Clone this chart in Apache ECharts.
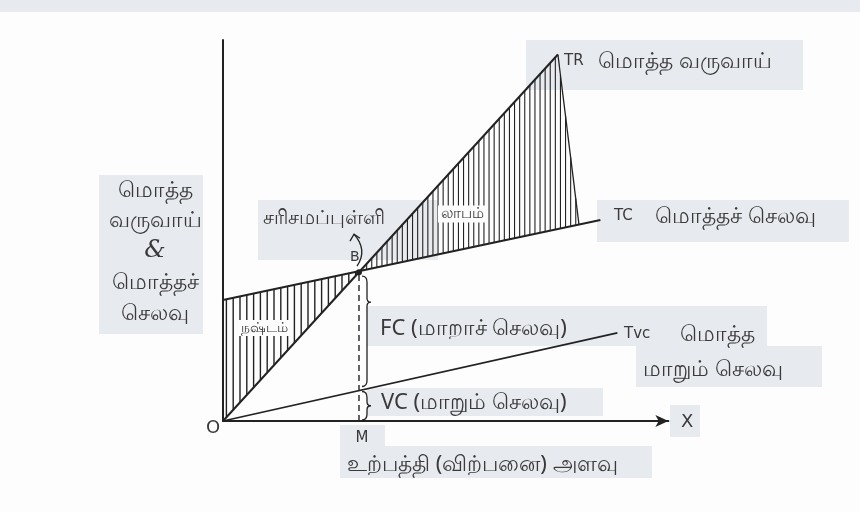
<!DOCTYPE html>
<html>
<head>
<meta charset="utf-8">
<script src="https://cdn.jsdelivr.net/npm/echarts@6/dist/echarts.min.js"></script>
<style>html,body{margin:0;background:#fff}#main{width:860px;height:512px}</style>
</head>
<body>
<div id="main"></div>
<script>
// total revenue, total cost, total variable cost (line end points)
var revenueX = [0, 98.5];
var revenueY = [0, 98.5];
var costX = [0, 111];
var costY = [32.5, 54];
var varCostX = [0, 116];
var varCostY = [0, 23.7];
var breakEven = [40, 40];      // B, above quantity M
var varCostAtM = 8.2;
var profitEdgeX = [98.5, 104.7]; // right edge of the profit hatching (top, bottom)

function lineAt(xs, ys, x) {
    return ys[0] + (ys[1] - ys[0]) * (x - xs[0]) / (xs[1] - xs[0]);
}
function pairs(xs, ys) {
    return xs.map(function (x, i) { return [x, ys[i]]; });
}

var ink = '#222';
var txt = '#3a3a3a';
var patch = '#e7eaee';
var font = '22px "Noto Sans", sans-serif';

function renderMarks(params, api) {
    var kids = [];
    var hatchStyle = { stroke: ink, lineWidth: 1.2 };
    var edgeTopY = lineAt(revenueX, revenueY, profitEdgeX[0]);
    var edgeBotY = lineAt(costX, costY, profitEdgeX[1]);
    function topAt(x) {
        if (x <= breakEven[0]) return lineAt(costX, costY, x);
        if (x <= profitEdgeX[0]) return lineAt(revenueX, revenueY, x);
        return lineAt(profitEdgeX, [edgeTopY, edgeBotY], x);
    }
    function botAt(x) {
        if (x <= breakEven[0]) return lineAt(revenueX, revenueY, x);
        return lineAt(costX, costY, x);
    }
    function hatch(x0, x1, step, w) {
        for (var x = x0 + step / 2; x < x1; x += step) {
            var a = api.coord([x, topAt(x)]);
            var b = api.coord([x, botAt(x)]);
            kids.push({ type: 'line', shape: { x1: a[0], y1: a[1], x2: b[0], y2: b[1] }, style: { stroke: ink, lineWidth: w } });
        }
    }
    hatch(0, breakEven[0], 2, 1.4);
    hatch(breakEven[0], profitEdgeX[1], 1.5, 1.1);
    var e1 = api.coord([profitEdgeX[0], edgeTopY]);
    var e2 = api.coord([profitEdgeX[1], edgeBotY]);
    kids.push({ type: 'line', shape: { x1: e1[0], y1: e1[1], x2: e2[0], y2: e2[1] }, style: { stroke: ink, lineWidth: 1.3 } });

    // braces for FC and VC
    var b = api.coord(breakEven);
    var v = api.coord([breakEven[0], varCostAtM]);
    var o = api.coord([breakEven[0], 0]);
    function brace(x, y1, y2, m) {
        return 'M' + x + ' ' + y1 + ' Q' + (x + 5) + ' ' + y1 + ' ' + (x + 5) + ' ' + (y1 + 6) +
            ' L' + (x + 5) + ' ' + (m - 4) + ' Q' + (x + 5) + ' ' + m + ' ' + (x + 9) + ' ' + m +
            ' Q' + (x + 5) + ' ' + m + ' ' + (x + 5) + ' ' + (m + 4) +
            ' L' + (x + 5) + ' ' + (y2 - 6) + ' Q' + (x + 5) + ' ' + y2 + ' ' + x + ' ' + y2;
    }
    var penStyle = { stroke: ink, lineWidth: 1.3, fill: null };
    kids.push({ type: 'path', shape: { pathData: brace(b[0] + 3, b[1] + 4, v[1] - 4, b[1] + 30) }, style: penStyle });
    kids.push({ type: 'path', shape: { pathData: brace(b[0] + 3, v[1] + 1, o[1] - 1, (v[1] + o[1]) / 2) }, style: penStyle });

    // break-even point and curved pointer to its label
    kids.push({ type: 'circle', shape: { cx: b[0], cy: b[1], r: 3 }, style: { fill: ink } });
    var tipX = b[0] - 5, tipY = b[1] - 38;
    kids.push({ type: 'path', shape: { pathData: 'M' + (b[0] - 2) + ' ' + (b[1] - 6) + ' Q' + (b[0] + 9) + ' ' + (b[1] - 22) + ' ' + tipX + ' ' + tipY }, style: penStyle });
    kids.push({ type: 'path', shape: { pathData: 'M' + (tipX - 4) + ' ' + (tipY + 7) + ' L' + tipX + ' ' + tipY + ' L' + (tipX + 6) + ' ' + (tipY + 4) }, style: penStyle });
    return { type: 'group', children: kids };
}

function label(text, x, y, opts) {
    opts = opts || {};
    var style = {
        text: text, x: x, y: y,
        font: opts.font || font,
        fill: opts.fill || txt,
        textAlign: opts.align || 'left',
        textVerticalAlign: 'middle'
    };
    if (opts.bg) { style.backgroundColor = opts.bg; style.padding = [1, 3]; }
    return { type: 'text', z: 100, style: style };
}
function block(x, y, w, h) {
    return { type: 'rect', z: -10, shape: { x: x, y: y, width: w, height: h }, style: { fill: patch } };
}

var chart = echarts.init(document.getElementById('main'));
chart.setOption({
    backgroundColor: '#fdfdfd',
    animation: false,
    grid: { left: 223, top: 40, width: 445.4, bottom: 91 },
    xAxis: {
        type: 'value', min: 0, max: 131,
        axisLine: { show: true, symbol: ['none', 'arrow'], symbolSize: [9, 13], lineStyle: { color: ink, width: 2 } },
        axisTick: { show: false }, axisLabel: { show: false }, splitLine: { show: false }
    },
    yAxis: {
        type: 'value', min: 0, max: 102.4,
        axisLine: { show: true, lineStyle: { color: ink, width: 2 } },
        axisTick: { show: false }, axisLabel: { show: false }, splitLine: { show: false }
    },
    graphic: [
        block(0, 0, 860, 12),
        block(99, 175, 104, 159),
        block(258, 200, 180, 60),
        block(526, 40, 277, 50),
        block(597, 200, 252, 42),
        block(367, 306, 400, 40),
        block(636, 346, 186, 41),
        block(367, 388, 236, 28),
        block(340, 446, 312, 32),
        block(340, 425, 45, 21),
        block(670, 405, 30, 32),
        label('மொத்த', 155, 191, { align: 'center' }),
        label('வருவாய்', 155, 221, { align: 'center' }),
        label('&', 155, 251, { align: 'center', font: 'italic 24px "DejaVu Serif", serif' }),
        label('மொத்தச்', 155, 283, { align: 'center' }),
        label('செலவு', 155, 314, { align: 'center' }),
        label('சரிசமப்புள்ளி', 263, 218, { font: '20px "Noto Sans", sans-serif' }),
        label('லாபம்', 438, 214, { font: '15px "Noto Sans", sans-serif', bg: '#fdfdfd' }),
        label('நஷ்டம்', 238, 328, { font: '14px "Noto Sans", sans-serif', bg: '#fdfdfd' }),
        label('B', 350, 257, { font: '14px "DejaVu Sans", sans-serif' }),
        label('TR', 564, 61, { font: '15px "DejaVu Sans", sans-serif' }),
        label('மொத்த வருவாய்', 598, 62),
        label('TC', 614, 216, { font: '15px "DejaVu Sans", sans-serif' }),
        label('மொத்தச் செலவு', 655, 217),
        label('FC (மாறாச் செலவு)', 380, 329),
        label('Tvc', 624, 334, { font: '15px "DejaVu Sans", sans-serif' }),
        label('மொத்த', 680, 335),
        label('மாறும் செலவு', 643, 370),
        label('VC (மாறும் செலவு)', 381, 403),
        label('O', 206, 428, { font: '18px "DejaVu Sans", sans-serif' }),
        label('M', 362, 438, { align: 'center', font: '15px "DejaVu Sans", sans-serif' }),
        label('X', 681, 422, { font: '18px "DejaVu Sans", sans-serif' }),
        label('உற்பத்தி (விற்பனை) அளவு', 347, 465)
    ],
    series: [
        {
            name: 'TR', type: 'line', data: pairs(revenueX, revenueY), symbol: 'none',
            lineStyle: { color: ink, width: 2 }, z: 5
        },
        {
            name: 'TC', type: 'line', data: pairs(costX, costY), symbol: 'none',
            lineStyle: { color: ink, width: 2 }, z: 5
        },
        {
            name: 'TVC', type: 'line', data: pairs(varCostX, varCostY), symbol: 'none',
            lineStyle: { color: ink, width: 1.7 }, z: 5
        },
        {
            name: 'BM', type: 'line', data: [[breakEven[0], 0], breakEven], symbol: 'none',
            lineStyle: { color: ink, width: 1.4, type: [6, 4] }, z: 5
        },
        {
            type: 'custom', data: [[0, 0]], renderItem: renderMarks, z: 4, silent: true
        }
    ]
});
</script>
</body>
</html>
